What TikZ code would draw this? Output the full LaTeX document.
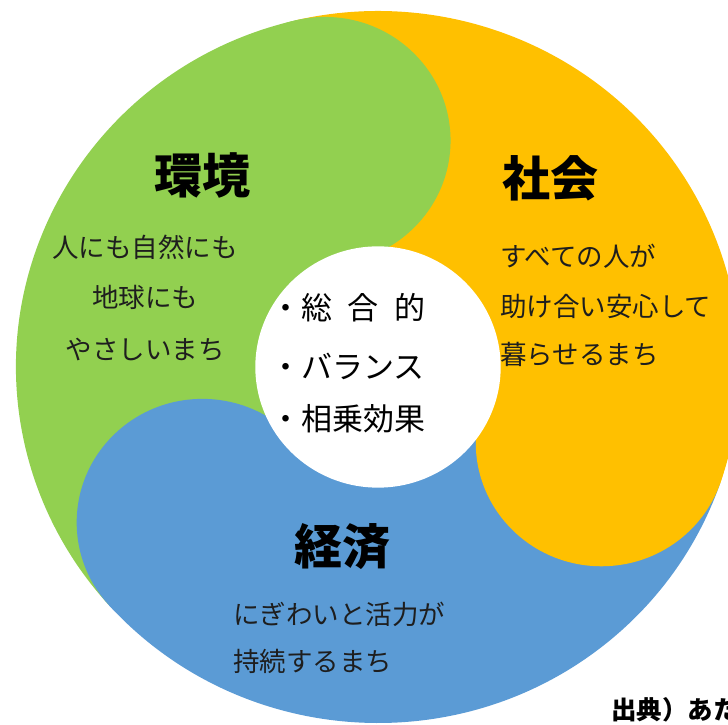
\documentclass[tikz,border=0pt]{standalone}
\usepackage{fontspec}
\newfontfamily\jp{Noto Sans CJK JP}
\definecolor{kgreen}{HTML}{92D050}
\definecolor{kyellow}{HTML}{FFC000}
\definecolor{kblue}{HTML}{5B9BD5}
\definecolor{txt}{HTML}{1E1E1E}
\tikzset{
  head/.style={font=\jp\bfseries\fontsize{48}{48}\selectfont, text=black, inner sep=0, anchor=base},
  body/.style={font=\jp\fontsize{26.5}{26.5}\selectfont, text=txt, inner sep=0},
  ctr/.style={font=\jp\fontsize{31}{31}\selectfont, text=black, inner sep=0, anchor=base west}
}
\begin{document}
\begin{tikzpicture}[x=1pt,y=1pt]
\useasboundingbox (0,0) rectangle (728,725);
\fill[white] (0,0) rectangle (728,725);
\begin{scope}[shift={(378,358)}, xscale=1.0056, yscale=0.9889]
  \fill[kgreen] (0,0) -- (103:360) arc[start angle=103,end angle=222,radius=360] -- cycle;
  \fill[kblue] (0,0) -- (222:360) arc[start angle=222,end angle=341,radius=360] -- cycle;
  \fill[kyellow] (0,0) -- (341:360) arc[start angle=341,end angle=463,radius=360] -- cycle;
  \fill[kgreen] (103:235) circle[radius=125];
  \fill[kblue] (222:235) circle[radius=125];
  \fill[kyellow] (341:235) circle[radius=125];
  \fill[white] (0,0) circle[radius=122];
\end{scope}
\node[head] (kankyo) at (202,531) {環境};
\node[head] (shakai) at (550,528) {社会};
\node[head] (keizai) at (342,160) {経済};
\node[body,anchor=base] (k1) at (145,467) {人にも自然にも};
\node[body,anchor=base] (k2) at (145,417) {地球にも};
\node[body,anchor=base] (k3) at (145,365) {やさしいまち};
\node[body,anchor=base west] (s1) at (500,458) {すべての人が};
\node[body,anchor=base west] (s2) at (500,408) {助け合い安心して};
\node[body,anchor=base west] (s3) at (500,360) {暮らせるまち};
\node[body,anchor=base west] (e1) at (233,100) {にぎわいと活力が};
\node[body,anchor=base west] (e2) at (233,53) {持続するまち};
\node[ctr] (c1) at (270,405) {・\makebox[4em][s]{総\hfill 合\hfill 的}};
\node[ctr] (c2) at (270,346) {・バランス};
\node[ctr] (c3) at (270,294) {・相乗効果};
\node[font=\jp\bfseries\fontsize{25.5}{25.5}\selectfont, text=black, inner sep=0, anchor=base west] (src) at (611,5) {出典）あた};
\end{tikzpicture}
\end{document}
